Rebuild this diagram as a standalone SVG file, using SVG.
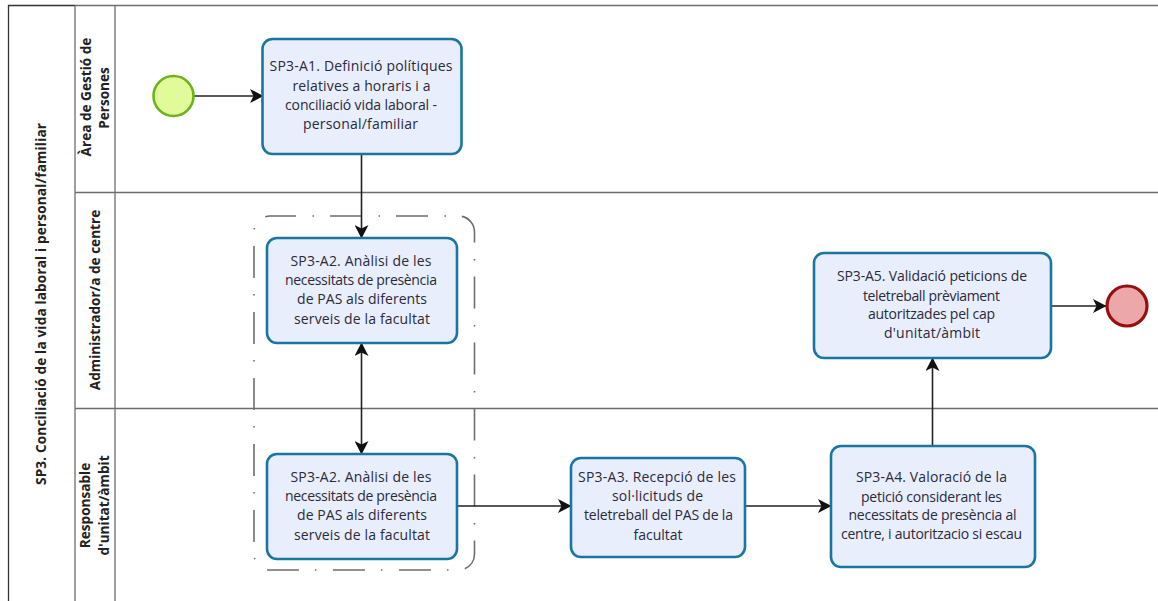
<svg xmlns="http://www.w3.org/2000/svg" width="1158" height="601" viewBox="0 0 1158 601">
<style>
.lane{fill:none;stroke:#6e6e6e;stroke-width:1.3}
.outer{fill:none;stroke:#333;stroke-width:1.3}
.task{fill:#e9eefc;stroke:#1a76a0;stroke-width:2.6}
.t{font-family:"Open Sans","Noto Sans",sans-serif;font-size:14px;fill:#2a2a3a;text-anchor:middle}
.h{font-family:"Open Sans","Noto Sans",sans-serif;font-size:13.6px;font-weight:700;fill:#222;text-anchor:middle}
.c{fill:none;stroke:#222;stroke-width:1.6}
.grp{fill:none;stroke:#6e6e6e;stroke-width:1.6;stroke-dasharray:32 16.500 1.500 16;stroke-dashoffset:6}
</style>
<defs>
<marker id="a" viewBox="0 0 14 14" refX="13" refY="7" markerWidth="14" markerHeight="14" markerUnits="userSpaceOnUse" orient="auto-start-reverse"><path d="M0 0L13.500 7L0 14L3.500 7Z" fill="#111"/></marker>
</defs>
<rect width="1158" height="601" fill="#fff"/>
<g id="pool">
<path class="outer" d="M8.500 601V5.500H75"/>
<path class="lane" d="M75 5.500H1158M75 5.500V601M115 5.500V601M75 192.500H1158M75 408.500H1158"/>
<text class="h" textLength="362" transform="translate(46 304) rotate(-90)">SP3. Conciliació de la vida laboral i personal/familiar</text>
<text class="h" transform="translate(91 97) rotate(-90)">Àrea de Gestió de</text>
<text class="h" transform="translate(109 98) rotate(-90)">Persones</text>
<text class="h" transform="translate(100 300) rotate(-90)">Administrador/a de centre</text>
<text class="h" transform="translate(90 505.500) rotate(-90)">Responsable</text>
<text class="h" transform="translate(109 505.500) rotate(-90)">d'unitat/àmbit</text>
</g>
<g id="group"><rect class="grp" x="254" y="216" width="220.500" height="354" rx="16"/></g>
<g id="connectors">
<path class="c" marker-end="url(#a)" d="M193 96H263"/>
<path class="c" marker-end="url(#a)" d="M361.500 154V238"/>
<path class="c" marker-start="url(#a)" marker-end="url(#a)" d="M361.500 343V454"/>
<path class="c" marker-end="url(#a)" d="M457 506H571"/>
<path class="c" marker-end="url(#a)" d="M745 506H831"/>
<path class="c" marker-end="url(#a)" d="M932.500 446V358"/>
<path class="c" marker-end="url(#a)" d="M1051 306H1106"/>
</g>
<g id="start"><circle cx="173.500" cy="96" r="20" fill="#e2fb9a" stroke="#6cb31e" stroke-width="2.600"/></g>
<g id="end"><circle cx="1127" cy="306" r="20" fill="#eca8a8" stroke="#980f0f" stroke-width="3.200"/></g>
<g id="a1"><rect class="task" x="262.500" y="39" width="199" height="115" rx="10"/>
<text class="t" x="361" y="71" textLength="183">SP3-A1. Definició polítiques</text><text class="t" x="361.500" y="91" textLength="138">relatives a horaris i a</text><text class="t" x="361" y="110" textLength="152">conciliació vida laboral -</text><text class="t" x="360.500" y="129" textLength="115">personal/familiar</text></g>
<g id="a2a"><rect class="task" x="267" y="238" width="190" height="105" rx="10"/>
<text class="t" x="361" y="266" textLength="141">SP3-A2. Anàlisi de les</text><text class="t" x="361" y="285" textLength="152">necessitats de presència</text><text class="t" x="362" y="304" textLength="130">de PAS als diferents</text><text class="t" x="362" y="324" textLength="136">serveis de la facultat</text></g>
<g id="a2b"><rect class="task" x="267" y="454" width="190" height="105" rx="10"/>
<text class="t" x="361" y="482" textLength="141">SP3-A2. Anàlisi de les</text><text class="t" x="361" y="501" textLength="152">necessitats de presència</text><text class="t" x="362" y="520" textLength="130">de PAS als diferents</text><text class="t" x="362" y="540" textLength="136">serveis de la facultat</text></g>
<g id="a3"><rect class="task" x="571" y="458" width="174" height="99" rx="10"/>
<text class="t" x="657" y="482" textLength="158">SP3-A3. Recepció de les</text><text class="t" x="657.500" y="501" textLength="91">sol·licituds de</text><text class="t" x="658.500" y="520" textLength="149">teletreball del PAS de la</text><text class="t" x="658" y="540" textLength="49">facultat</text></g>
<g id="a4"><rect class="task" x="831" y="446" width="204" height="121" rx="10"/>
<text class="t" x="931.500" y="482" textLength="151">SP3-A4. Valoració de la</text><text class="t" x="931.500" y="502" textLength="141">petició considerant les</text><text class="t" x="932.500" y="520" textLength="168">necessitats de presència al</text><text class="t" x="931.500" y="539" textLength="181">centre, i autoritzacio si escau</text></g>
<g id="a5"><rect class="task" x="814" y="253" width="237" height="105" rx="10"/>
<text class="t" x="932" y="281" textLength="190">SP3-A5. Validació peticions de</text><text class="t" x="931.500" y="301" textLength="137">teletreball prèviament</text><text class="t" x="931.500" y="319" textLength="127">autoritzades pel cap</text><text class="t" x="932" y="338" textLength="96">d'unitat/àmbit</text></g>
</svg>
